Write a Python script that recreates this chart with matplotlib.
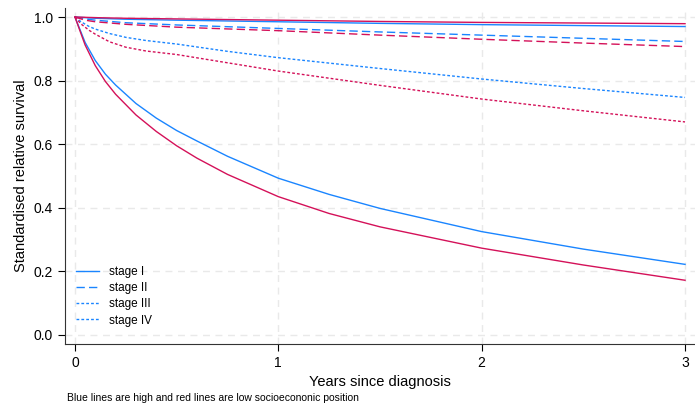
import matplotlib.pyplot as plt
from matplotlib.lines import Line2D

plt.rcParams['font.family'] = ['Liberation Sans', 'DejaVu Sans']

# colours for socioeconomic position
blue = '#1A85FF'
red = '#D41159'

# stage I
t1 = [0, 0.1, 0.25, 0.5, 1, 1.5, 2, 2.5, 3]
s1_high = [1, 0.996, 0.993, 0.990, 0.985, 0.980, 0.976, 0.973, 0.970]
s1_low = [1, 0.998, 0.996, 0.994, 0.990, 0.986, 0.983, 0.981, 0.979]

# stage II
t2 = [0, 0.05, 0.1, 0.25, 0.5, 1, 1.5, 2, 2.5, 3]
s2_high = [1, 0.994, 0.990, 0.982, 0.975, 0.964, 0.953, 0.943, 0.933, 0.923]
s2_low = [1, 0.990, 0.985, 0.977, 0.968, 0.957, 0.943, 0.930, 0.918, 0.907]

# stage III
t3 = [0, 0.03, 0.07, 0.1, 0.17, 0.25, 0.35, 0.5, 0.75, 1, 1.5, 2, 2.5, 3]
s3_high = [1, 0.985, 0.970, 0.962, 0.948, 0.936, 0.926, 0.915, 0.892, 0.872, 0.838, 0.805, 0.775, 0.747]
s3_low = [1, 0.978, 0.958, 0.946, 0.922, 0.905, 0.893, 0.882, 0.856, 0.830, 0.785, 0.742, 0.705, 0.670]

# stage IV
t4 = [0, 0.05, 0.1, 0.15, 0.2, 0.3, 0.4, 0.5, 0.6, 0.75, 1, 1.25, 1.5, 2, 2.5, 3]
s4_high = [1, 0.920, 0.863, 0.820, 0.786, 0.728, 0.682, 0.643, 0.610, 0.562, 0.493, 0.442, 0.398, 0.325, 0.270, 0.222]
s4_low = [1, 0.912, 0.847, 0.797, 0.757, 0.692, 0.640, 0.595, 0.556, 0.505, 0.435, 0.382, 0.340, 0.273, 0.220, 0.172]

fig = plt.figure(figsize=(6.95, 4.05), dpi=100)
ax = fig.add_axes([0.0935, 0.151, 0.9065, 0.829])

dash2 = (0, (6, 3))
dash3 = (0, (2, 1.5))

for col, a, b, c, d in [(blue, s1_high, s2_high, s3_high, s4_high),
                        (red, s1_low, s2_low, s3_low, s4_low)]:
    ax.plot(t1, a, color=col, lw=1.0)
    ax.plot(t2, b, color=col, lw=1.0, linestyle=dash2)
    ax.plot(t3, c, color=col, lw=1.0, linestyle=dash3)
    ax.plot(t4, d, color=col, lw=1.0)

ax.set_xlim(-0.049, 3.049)
ax.set_ylim(-0.028, 1.028)
ax.set_xticks([0, 1, 2, 3])
ax.set_yticks([0, 0.2, 0.4, 0.6, 0.8, 1.0])
ax.set_yticklabels(['0.0', '0.2', '0.4', '0.6', '0.8', '1.0'])
ax.tick_params(labelsize=10, length=5, width=0.8, direction='out')

ax.grid(True, color='#e9e9e9', linestyle=(0, (5, 4)), lw=1.0)
ax.set_axisbelow(True)
for side in ['top', 'right']:
    ax.spines[side].set_visible(False)
for side in ['left', 'bottom']:
    ax.spines[side].set_linewidth(0.8)
    ax.spines[side].set_color('#333333')

ax.set_xlabel('Years since diagnosis', fontsize=10.5)
ax.set_ylabel('Standardised relative survival', fontsize=10.5)

handles = [Line2D([], [], color=blue, lw=1.0),
           Line2D([], [], color=blue, lw=1.0, linestyle=dash2),
           Line2D([], [], color=blue, lw=1.0, linestyle=dash3),
           Line2D([], [], color=blue, lw=1.0, linestyle=dash3)]
ax.legend(handles, ['stage I', 'stage II', 'stage III', 'stage IV'],
          loc='lower left', bbox_to_anchor=(0.0, 0.02), frameon=False,
          fontsize=8.5, handlelength=2.0, labelspacing=0.36, handletextpad=0.85)

fig.text(0.097, 0.01, 'Blue lines are high and red lines are low socioecononic position',
         fontsize=7.5)

fig.savefig('out.png', dpi=100)
